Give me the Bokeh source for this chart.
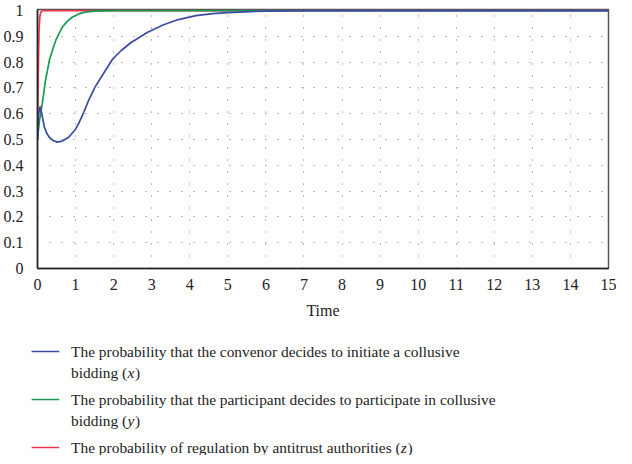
import numpy as np
from bokeh.plotting import figure
from bokeh.layouts import column
from bokeh.models import Range1d, FixedTicker, ColumnDataSource
from bokeh.core.properties import value
from bokeh.embed import file_html
from bokeh.resources import INLINE

# ---- data ----
t_x = [0, 0.03, 0.07, 0.12, 0.18, 0.25, 0.31, 0.4, 0.52, 0.65, 0.82, 1.0, 1.08, 1.2, 1.34,
       1.51, 1.75, 1.98, 2.2, 2.45, 2.88, 3.31, 3.7, 4.16, 4.6, 5.0, 5.45, 6.0, 7.0, 15.0]
x_val = [0.5, 0.6, 0.628, 0.595, 0.548, 0.522, 0.509, 0.497, 0.49, 0.494, 0.509, 0.54, 0.562, 0.60, 0.651,
         0.703, 0.76, 0.813, 0.845, 0.875, 0.915, 0.945, 0.965, 0.98, 0.988, 0.992, 0.995, 0.998, 1.0, 1.0]

t_y = [0, 0.05, 0.137, 0.2, 0.31, 0.4, 0.48, 0.57, 0.65, 0.78, 0.91, 1.08, 1.25, 1.5, 2.0, 15.0]
y_val = [0.5, 0.57, 0.651, 0.72, 0.806, 0.85, 0.884, 0.912, 0.935, 0.958, 0.974, 0.987, 0.994, 0.998, 1.0, 1.0]

t_z = [0, 0.01, 0.02, 0.03, 0.04, 0.06, 0.08, 0.1, 0.15, 15.0]
z_val = [0.5, 0.64, 0.75, 0.845, 0.92, 0.975, 0.99, 0.997, 1.0, 1.0]

x_ticks = list(range(0, 16))
y_ticks = [0, 0.1, 0.2, 0.3, 0.4, 0.5, 0.6, 0.7, 0.8, 0.9, 1.0]
y_tick_labels = ["0", "0.1", "0.2", "0.3", "0.4", "0.5", "0.6", "0.7", "0.8", "0.9", "1"]
x_label = "Time"

legend_colors = ["#3b4aa3", "#1a9a52", "#e8374d"]
# each line: (normal text before, italic variable, normal text after)
legend_lines = [
    [("The probability that the convenor decides to initiate a collusive", "", ""),
     ("bidding (", "x", ")")],
    [("The probability that the participant decides to participate in collusive", "", ""),
     ("bidding (", "y", ")")],
    [("The probability of regulation by antitrust authorities (", "z", ")")],
]

FONT = "Liberation Serif"
FS = 15.4
W = 616
BL, BR = 30, 8

# Times-compatible advance widths (per 1000 em) for placing the italic variables
W_ROMAN = {"T": 611, "h": 500, "e": 444, " ": 250, "p": 500, "r": 333, "o": 500, "b": 500,
           "a": 444, "i": 278, "l": 278, "t": 278, "y": 500, "f": 333, "g": 500, "u": 500,
           "n": 500, "s": 389, "(": 333, ")": 333, "c": 444, "d": 500, "v": 500, "x": 500,
           "z": 444, "m": 778}
W_ITALIC = {"x": 444, "y": 444, "z": 389}
RENDER_SCALE = 1.01


def text_width(s, table):
    return sum(table.get(ch, 500) for ch in s) * FS / 1000.0 * RENDER_SCALE


p = figure(width=W, height=321, output_backend="svg", toolbar_location=None,
           x_range=Range1d(0, 15), y_range=Range1d(0, 1.004),
           min_border_left=BL, min_border_right=BR, min_border_top=9, min_border_bottom=10)
p.background_fill_color = "white"
p.border_fill_color = "white"
p.outline_line_color = "#555555"
p.outline_line_width = 1.5

p.xaxis.ticker = FixedTicker(ticks=x_ticks)
p.yaxis.ticker = FixedTicker(ticks=y_ticks)
p.yaxis.major_label_overrides = {tv: lab for tv, lab in zip(y_ticks, y_tick_labels)}
p.xaxis.axis_label = x_label
for ax in (p.xaxis, p.yaxis):
    ax.axis_line_color = "#222222"
    ax.axis_line_width = 1.5
    ax.major_tick_line_color = None
    ax.minor_tick_line_color = None
    ax.major_label_text_font = FONT
    ax.major_label_text_font_size = "16px"
    ax.major_label_text_color = "#222222"
    ax.major_label_standoff = 8
p.xaxis.major_label_standoff = 4
p.xaxis.axis_label_text_font = FONT
p.xaxis.axis_label_text_font_size = "16px"
p.xaxis.axis_label_text_font_style = "normal"
p.xaxis.axis_label_text_color = "#222222"
p.xaxis.axis_label_standoff = 9

for g in (p.xgrid, p.ygrid):
    g.grid_line_color = "#777777"
    g.grid_line_dash = "1 11"
    g.grid_line_width = 1

p.line(t_z, z_val, color=legend_colors[2], line_width=1.7)
p.line(t_y, y_val, color=legend_colors[1], line_width=1.7)
p.line(t_x, x_val, color=legend_colors[0], line_width=1.7)

# ---- legend panel (data units equal canvas pixels) ----
LH = 134
leg = figure(width=W, height=LH, output_backend="svg", toolbar_location=None,
             x_range=Range1d(BL, W - BR), y_range=Range1d(LH, 0),
             x_axis_location=None, y_axis_location=None,
             min_border_left=BL, min_border_right=BR, min_border_top=0, min_border_bottom=0)
leg.grid.visible = False
leg.outline_line_color = None
leg.background_fill_color = "white"

row_y = [30, 78, 126]
line_gap = 21
text_x = 64
seg = dict(x0=[], x1=[], y0=[], y1=[], c=[])
txt = dict(x=[], y=[], t=[])
itx = dict(x=[], y=[], t=[])
for ry, col, lines in zip(row_y, legend_colors, legend_lines):
    seg["x0"].append(24); seg["x1"].append(52); seg["y0"].append(ry); seg["y1"].append(ry); seg["c"].append(col)
    for i, (pre, var, post) in enumerate(lines):
        yy = ry + i * line_gap
        txt["x"].append(text_x); txt["y"].append(yy); txt["t"].append(pre)
        if var:
            x1 = text_x + text_width(pre, W_ROMAN) + 0.5
            itx["x"].append(x1); itx["y"].append(yy); itx["t"].append(var)
            x2 = x1 + text_width(var, W_ITALIC) + 0.8
            txt["x"].append(x2); txt["y"].append(yy); txt["t"].append(post)

seg_r = leg.segment(x0="x0", y0="y0", x1="x1", y1="y1", color="c", line_width=1.5, source=ColumnDataSource(seg))
t1 = leg.text(x="x", y="y", text="t", source=ColumnDataSource(txt), text_font=value(FONT),
              text_font_size=f"{FS}px", text_baseline="middle", text_color="#222222")
t2 = leg.text(x="x", y="y", text="t", source=ColumnDataSource(itx), text_font=value(FONT),
              text_font_size=f"{FS}px", text_font_style="italic", text_baseline="middle", text_color="#222222")
for r in (seg_r, t1, t2):
    r.level = "overlay"

layout = column(p, leg, spacing=0)
open("out.html", "w").write(file_html(layout, INLINE))
